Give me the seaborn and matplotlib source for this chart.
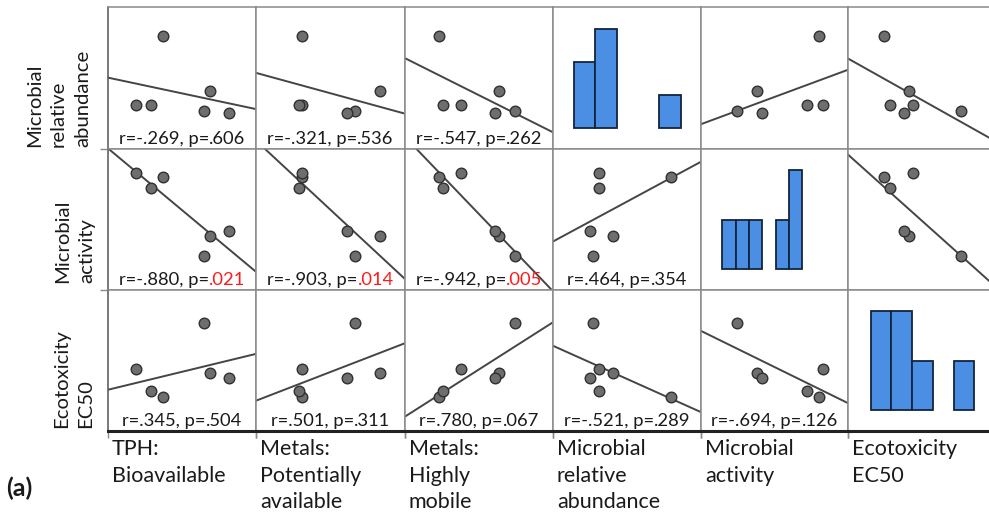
import numpy as np
import pandas as pd
import matplotlib
matplotlib.use("Agg")
import matplotlib.pyplot as plt
import seaborn as sns
from matplotlib.offsetbox import TextArea, HPacker, AnchoredOffsetbox

# ---------------- data (six samples, relative units 0-100) ----------------
tph_bio = [37.0, 69.1, 18.9, 28.9, 65.1, 81.8]
metals_pa = [31.0, 83.0, 31.2, 29.0, 66.7, 61.1]
metals_hm = [23.2, 63.7, 37.6, 25.5, 74.3, 60.8]
micro_abund = [79.8, 40.6, 31.2, 31.0, 27.0, 25.3]
micro_act = [80.3, 38.0, 83.3, 72.0, 24.2, 41.5]
ecotox_ec50 = [24.0, 41.2, 44.2, 28.7, 76.4, 37.6]

col_labels = ["TPH:\nBioavailable", "Metals:\nPotentially\navailable",
              "Metals:\nHighly\nmobile", "Microbial\nrelative\nabundance",
              "Microbial\nactivity", "Ecotoxicity\nEC50"]
row_labels = ["Microbial\nrelative\nabundance", "Microbial\nactivity",
              "Ecotoxicity\nEC50"]

# histogram counts shown on the diagonal cells
hist_abund = [2, 3, 0, 0, 1]
hist_act = [1, 1, 1, 0, 1, 2]
hist_ec50 = [2, 2, 1, 0, 1]

# correlation annotations (row x column)
r_vals = [["-.269", "-.321", "-.547", None, None, None],
          ["-.880", "-.903", "-.942", ".464", None, None],
          [".345", ".501", ".780", "-.521", "-.694", None]]
p_vals = [[".606", ".536", ".262", None, None, None],
          [".021", ".014", ".005", ".354", None, None],
          [".504", ".311", ".067", ".289", ".126", None]]

# ---------------- styling ----------------
sns.set_theme(style="white")
plt.rcParams["font.family"] = ["Lato", "DejaVu Sans"]

W, H = 989, 515
fig = plt.figure(figsize=(W / 100, H / 100), dpi=100)

col_x = [108, 256, 405, 553, 701, 848]
col_w = [148, 149, 148, 148, 147, 148]
row_y = [7, 149, 290]
row_h = [142, 141, 141]

x_vars = [tph_bio, metals_pa, metals_hm, micro_abund, micro_act, ecotox_ec50]
y_vars = [micro_abund, micro_act, ecotox_ec50]
hists = {(0, 3): (hist_abund, 21.0, 21.3),
         (1, 4): (hist_act, 21.3, 13.33),
         (2, 5): (hist_ec50, 22.7, 20.7)}

GRID = "#8a8a8a"
PT_FACE = "#6e6e6e"
PT_EDGE = "#303030"
LINE_C = "#454545"
BAR_C = "#4a8fe3"
BAR_E = "#14243c"
TXT_FS = 13.2

for r in range(3):
    for c in range(6):
        x0, w = col_x[c], col_w[c]
        y0, h = row_y[r], row_h[r]
        ax = fig.add_axes([x0 / W, 1 - (y0 + h) / H, w / W, h / H])
        ax.set_facecolor("white")
        if (r, c) in hists:
            counts, off, bw = hists[(r, c)]
            n = len(counts)
            hdf = pd.DataFrame({"bin": np.arange(n) + 0.5, "count": counts})
            sns.histplot(data=hdf, x="bin", weights="count",
                         bins=n, binrange=(0, n), ax=ax, color=BAR_C,
                         edgecolor=BAR_E, linewidth=1.3, alpha=1)
            for p in list(ax.patches):
                if p.get_height() == 0:
                    p.remove()
            m = max(counts)
            lo = -off / bw
            ax.set_xlim(lo, lo + w / bw)
            ax.set_ylim(-m * 21 / 99, m * (1 + 21.5 / 99))
        else:
            ax.set_xlim(0, 100)
            ax.set_ylim(0, 100)
            df = pd.DataFrame({"x": x_vars[c], "y": y_vars[r]})
            sns.regplot(data=df, x="x", y="y", ax=ax, ci=None, truncate=False,
                        scatter_kws=dict(s=58, facecolor=PT_FACE,
                                         edgecolor=PT_EDGE, linewidths=1.0,
                                         alpha=1, zorder=3),
                        line_kws=dict(color=LINE_C, lw=1.4, zorder=2))
            ax.set_xlim(0, 100)
            ax.set_ylim(0, 100)
            rv, pv = r_vals[r][c], p_vals[r][c]
            if rv is not None:
                sig = float(pv) < 0.05
                parts = [TextArea(f"r={rv}, p=",
                                  textprops=dict(color="#1a1a1a", fontsize=TXT_FS)),
                         TextArea(pv, textprops=dict(color="#ff1a1a" if sig else "#1a1a1a",
                                                     fontsize=TXT_FS))]
                box = HPacker(children=parts, align="baseline", pad=0, sep=0)
                anch = AnchoredOffsetbox(loc="lower center", child=box, pad=0,
                                         borderpad=0, frameon=False,
                                         bbox_to_anchor=(0.5, 0.012),
                                         bbox_transform=ax.transAxes)
                ax.add_artist(anch)
        ax.set_xlabel("")
        ax.set_ylabel("")
        # table-like cell borders with short stubs at the outer edges
        if c == 0 and r > 0:
            ax.set_yticks([ax.get_ylim()[1]])
            ax.tick_params(axis="y", left=True, length=6, width=1.0,
                           color=GRID, direction="out")
        else:
            ax.set_yticks([])
        if r == 2:
            ax.set_xticks(list(ax.get_xlim()))
            ax.tick_params(axis="x", bottom=True, length=5, width=1.0,
                           color=GRID, direction="out")
        else:
            ax.set_xticks([])
        ax.set_xticklabels([])
        ax.set_yticklabels([])
        for s in ax.spines.values():
            s.set_visible(True)
            s.set_color(GRID)
            s.set_linewidth(1.1)
        if r == 2:
            ax.spines["bottom"].set_color("#222222")
            ax.spines["bottom"].set_linewidth(2.2)
        if c == 0:
            ax.spines["left"].set_color("#555555")

# row labels (rotated, left side)
row_bottoms = [147, 283, 428]
row_right = [91, 95, 94]
for lbl, yb, xr in zip(row_labels, row_bottoms, row_right):
    fig.text(xr / W, 1 - yb / H, lbl, rotation=90, ha="right", va="bottom",
             multialignment="left", fontsize=14.6, linespacing=1.5,
             color="#1a1a1a")

# column labels (bottom)
for lbl, x0 in zip(col_labels, col_x):
    fig.text((x0 + 4) / W, 1 - 439 / H, lbl, ha="left", va="top",
             fontsize=15.5, linespacing=1.42, color="#1a1a1a")

fig.text(6 / W, 1 - 488 / H, "(a)", ha="left", va="center",
         fontsize=18, fontweight="bold", color="#1a1a1a")

fig.savefig("out.png", dpi=100, facecolor="white")
